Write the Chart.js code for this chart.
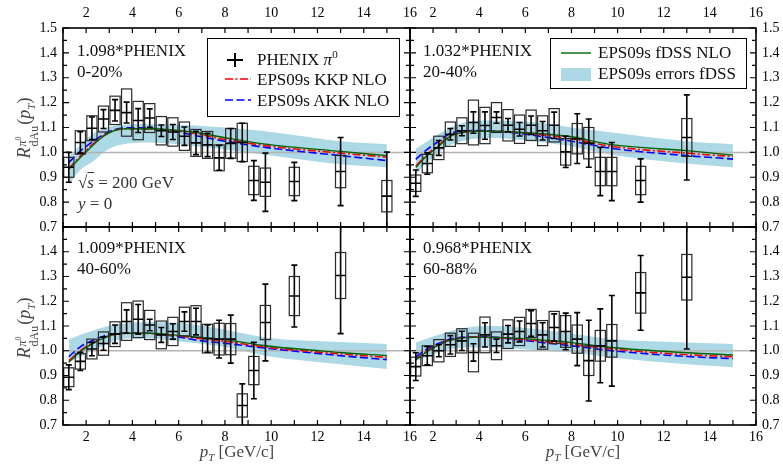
<!DOCTYPE html>
<html>
<head>
<meta charset="utf-8">
<script src="https://cdn.jsdelivr.net/npm/chart.js@4.4.0/dist/chart.umd.min.js"></script>
<style>
  body { margin: 0; background: #fff; }
  #wrap { position: relative; width: 783px; height: 467px; background: #fff; overflow: hidden;
          font-family: 'Liberation Serif', 'DejaVu Serif', serif; color: #111; }
  #wrap canvas { position: absolute; left: 0; top: 0; }
  .note { position: absolute; font-size: 17px; line-height: 21px; white-space: nowrap; }
  .legend { position: absolute; background: #fff; border: 1.5px solid #000; box-sizing: border-box; }
  .row { position: absolute; font-size: 17px; line-height: 20px; white-space: nowrap; }
  .up { position: relative; top: -7px; font-size: 11px; line-height: 0; }
  .dn { position: relative; top: 4px; font-size: 11px; line-height: 0; }
  .xtitle { position: absolute; top: 452px; font-size: 17px; color: #444; transform: translate(-50%, -50%); white-space: nowrap; }
  .ytitle { position: absolute; left: 26px; font-size: 18px; color: #444; white-space: nowrap;
            transform: translate(-50%, -50%) rotate(-90deg); }
  .ss { display: inline-block; vertical-align: middle; font-size: 12px; line-height: 12px; margin: 0 1px; }
  .ss span { display: block; }
  svg { position: absolute; }
</style>
</head>
<body>
<div id="wrap">
  <canvas id="cTL" width="783" height="467"></canvas>
  <canvas id="cTR" width="783" height="467"></canvas>
  <canvas id="cBL" width="783" height="467"></canvas>
  <canvas id="cBR" width="783" height="467"></canvas>

  <div class="note" style="left:77px;top:40px">1.098*PHENIX<br>0-20%</div>
  <div class="note" style="left:423px;top:40px">1.032*PHENIX<br>20-40%</div>
  <div class="note" style="left:77px;top:237px">1.009*PHENIX<br>40-60%</div>
  <div class="note" style="left:423px;top:237px">0.968*PHENIX<br>60-88%</div>
  <div class="note" style="left:78px;top:172px;color:#333">√<span style="text-decoration:overline"><i>s</i></span> = 200 GeV<br><i>y</i> = 0</div>

  <div class="legend" style="left:207px;top:38px;width:193px;height:79px">
    <svg style="left:16px;top:13px" width="22" height="16"><path d="M11 1 V15 M3 8 H19" stroke="#000" stroke-width="2"/></svg>
    <div class="row" style="left:49px;top:11px">PHENIX <i>π</i><span class="up">0</span></div>
    <svg style="left:16px;top:36px" width="28" height="8"><path d="M1 4 H27" stroke="#ff0000" stroke-width="1.6" stroke-dasharray="8,2.5,2,2.5"/></svg>
    <div class="row" style="left:49px;top:31px">EPS09s KKP NLO</div>
    <svg style="left:16px;top:57px" width="28" height="8"><path d="M1 4 H27" stroke="#0000ff" stroke-width="1.6" stroke-dasharray="8,3.5"/></svg>
    <div class="row" style="left:49px;top:52px">EPS09s AKK NLO</div>
  </div>

  <div class="legend" style="left:550px;top:38px;width:197px;height:51px">
    <svg style="left:9px;top:11px" width="32" height="6"><path d="M1 3 H31" stroke="#006400" stroke-width="1.4"/></svg>
    <div class="row" style="left:47px;top:4px">EPS09s fDSS NLO</div>
    <svg style="left:9px;top:29px" width="32" height="13"><rect x="1" y="0" width="30" height="13" fill="#add8e6"/></svg>
    <div class="row" style="left:47px;top:25px">EPS09s errors fDSS</div>
  </div>

  <div class="ytitle" style="top:128px"><i>R</i><span class="ss"><span><i>π</i><sup style="font-size:8px">0</sup></span><span>dAu</span></span>(<i>p</i><span class="dn"><i>T</i></span>)</div>
  <div class="ytitle" style="top:328px"><i>R</i><span class="ss"><span><i>π</i><sup style="font-size:8px">0</sup></span><span>dAu</span></span>(<i>p</i><span class="dn"><i>T</i></span>)</div>
  <div class="xtitle" style="left:237px"><i>p</i><span class="dn"><i>T</i></span> [GeV/c]</div>
  <div class="xtitle" style="left:583px"><i>p</i><span class="dn"><i>T</i></span> [GeV/c]</div>
</div>

<script>
// pT bin centres of the PHENIX points
const ptBins = [1.25, 1.75, 2.25, 2.75, 3.25, 3.75, 4.25, 4.75, 5.25, 5.75, 6.25, 6.75,
                7.25, 7.75, 8.25, 8.75, 9.25, 9.75, 11, 13, 15];
// pT nodes of the EPS09s curves
const curvePt = [1.25, 1.75, 2.25, 2.75, 3.25, 3.75, 4.75, 5.75, 6.75, 8, 9.75, 13, 15];

const xTickLabels = [2, 4, 6, 8, 10, 12, 14, 16];
const xTickMarks = [1, 2, 3, 4, 5, 6, 7, 8, 9, 10, 11, 12, 13, 14, 15, 16];
const yTickLabelsTop = [0.7, 0.8, 0.9, 1.0, 1.1, 1.2, 1.3, 1.4, 1.5];
const yTickLabelsBottom = [0.7, 0.8, 0.9, 1.0, 1.1, 1.2, 1.3, 1.4];
const yTickMarks = [0.7, 0.75, 0.8, 0.85, 0.9, 0.95, 1.0, 1.05, 1.1, 1.15, 1.2, 1.25, 1.3, 1.35, 1.4, 1.45, 1.5];

// 0-20 %
const val0020 = [0.94, 1.04, 1.097, 1.134, 1.169, 1.16, 1.128, 1.138, 1.087, 1.082, 1.065, 1.038, 1.03, 0.978, 1.036, 1.04, 0.887, 0.88, 0.883, 0.923, 0.824];
const stat0020 = [0.06, 0.043, 0.045, 0.038, 0.043, 0.042, 0.048, 0.037, 0.023, 0.03, 0.037, 0.047, 0.047, 0.05, 0.06, 0.077, 0.08, 0.117, 0.077, 0.137, 0.177];
const sys0020 = [0.04, 0.047, 0.05, 0.052, 0.057, 0.095, 0.077, 0.058, 0.057, 0.057, 0.057, 0.054, 0.054, 0.052, 0.06, 0.077, 0.057, 0.057, 0.057, 0.065, 0.063];
const fdss0020 = [0.932, 0.979, 1.025, 1.065, 1.089, 1.095, 1.095, 1.09, 1.08, 1.059, 1.033, 1.004, 0.987];
const kkp0020 = [0.935, 0.985, 1.03, 1.067, 1.089, 1.095, 1.094, 1.088, 1.075, 1.052, 1.027, 0.997, 0.981];
const akk0020 = [0.959, 1.005, 1.041, 1.072, 1.092, 1.099, 1.097, 1.085, 1.067, 1.045, 1.02, 0.987, 0.967];
const errHi0020 = [0.98, 1.03, 1.072, 1.095, 1.108, 1.112, 1.114, 1.112, 1.108, 1.1, 1.085, 1.045, 1.033];
const errLo0020 = [0.87, 0.93, 0.96, 1.0, 1.025, 1.035, 1.04, 1.035, 1.025, 1.012, 0.99, 0.952, 0.94];

// 20-40 %
const val2040 = [0.876, 0.955, 1.018, 1.073, 1.087, 1.12, 1.108, 1.14, 1.109, 1.093, 1.109, 1.087, 1.109, 1.002, 1.055, 1.037, 0.923, 0.923, 0.887, 1.06];
const stat2040 = [0.053, 0.043, 0.03, 0.023, 0.02, 0.043, 0.055, 0.023, 0.027, 0.027, 0.037, 0.037, 0.053, 0.063, 0.1, 0.097, 0.097, 0.117, 0.087, 0.171];
const sys2040 = [0.033, 0.037, 0.047, 0.049, 0.052, 0.09, 0.073, 0.06, 0.063, 0.057, 0.061, 0.06, 0.067, 0.053, 0.061, 0.063, 0.057, 0.057, 0.057, 0.076];
const fdss2040 = [0.939, 0.988, 1.025, 1.065, 1.079, 1.085, 1.085, 1.081, 1.075, 1.063, 1.031, 1.007, 0.989];
const kkp2040 = [0.945, 0.993, 1.03, 1.067, 1.08, 1.085, 1.084, 1.079, 1.07, 1.055, 1.024, 0.997, 0.983];
const akk2040 = [0.972, 1.012, 1.045, 1.076, 1.085, 1.088, 1.085, 1.076, 1.063, 1.045, 1.016, 0.987, 0.973];
const errHi2040 = [1.015, 1.045, 1.075, 1.1, 1.118, 1.127, 1.128, 1.125, 1.118, 1.1, 1.08, 1.045, 1.033];
const errLo2040 = [0.912, 0.96, 1.0, 1.03, 1.045, 1.055, 1.058, 1.05, 1.04, 1.025, 0.99, 0.955, 0.94];

// 40-60 %
const val4060 = [0.893, 0.957, 1.007, 1.029, 1.067, 1.118, 1.127, 1.104, 1.064, 1.078, 1.118, 1.118, 1.049, 1.047, 1.047, 0.779, 0.92, 1.114, 1.221, 1.304];
const stat4060 = [0.05, 0.037, 0.027, 0.027, 0.037, 0.047, 0.06, 0.023, 0.03, 0.031, 0.039, 0.054, 0.055, 0.076, 0.097, 0.087, 0.114, 0.155, 0.125, 0.235];
const sys4060 = [0.038, 0.031, 0.04, 0.047, 0.05, 0.076, 0.074, 0.059, 0.056, 0.057, 0.058, 0.064, 0.058, 0.064, 0.063, 0.047, 0.057, 0.069, 0.079, 0.093];
const fdss4060 = [0.953, 0.997, 1.027, 1.051, 1.067, 1.071, 1.071, 1.064, 1.056, 1.045, 1.02, 0.993, 0.98];
const kkp4060 = [0.96, 1.0, 1.03, 1.053, 1.067, 1.071, 1.07, 1.062, 1.051, 1.038, 1.015, 0.987, 0.973];
const akk4060 = [0.976, 1.016, 1.04, 1.059, 1.07, 1.073, 1.071, 1.06, 1.043, 1.03, 1.011, 0.98, 0.964];
const errHi4060 = [1.045, 1.065, 1.08, 1.095, 1.105, 1.112, 1.115, 1.114, 1.105, 1.085, 1.054, 1.035, 1.027];
const errLo4060 = [0.955, 0.975, 1.0, 1.02, 1.04, 1.05, 1.05, 1.04, 1.03, 1.015, 0.98, 0.945, 0.926];

// 60-88 %
const val6088 = [0.936, 0.98, 1.0, 1.024, 1.04, 0.993, 1.064, 1.02, 1.067, 1.078, 1.11, 1.064, 1.094, 1.078, 1.047, 0.96, 1.02, 1.04, 1.234, 1.297];
const stat6088 = [0.056, 0.037, 0.024, 0.037, 0.039, 0.035, 0.049, 0.027, 0.035, 0.042, 0.052, 0.049, 0.055, 0.074, 0.107, 0.163, 0.149, 0.183, 0.151, 0.29];
const sys6088 = [0.038, 0.04, 0.045, 0.047, 0.049, 0.078, 0.072, 0.056, 0.058, 0.057, 0.057, 0.058, 0.065, 0.064, 0.057, 0.06, 0.062, 0.066, 0.082, 0.092];
const fdss6088 = [0.963, 0.997, 1.024, 1.043, 1.051, 1.054, 1.054, 1.05, 1.043, 1.033, 1.013, 0.992, 0.983];
const kkp6088 = [0.966, 1.0, 1.026, 1.044, 1.052, 1.055, 1.053, 1.047, 1.038, 1.026, 1.007, 0.984, 0.976];
const akk6088 = [0.976, 1.007, 1.03, 1.047, 1.054, 1.056, 1.054, 1.044, 1.033, 1.02, 1.0, 0.977, 0.968];
const errHi6088 = [1.033, 1.05, 1.065, 1.08, 1.09, 1.097, 1.1, 1.094, 1.085, 1.07, 1.047, 1.033, 1.027];
const errLo6088 = [0.96, 0.975, 0.995, 1.007, 1.012, 1.013, 1.013, 1.007, 1.0, 0.993, 0.973, 0.945, 0.933];

const BIN_HALF = 0.22;   // half width of the systematic boxes, in GeV/c
const CAP = 3;           // error bar cap, px
const serif = "'Liberation Serif', 'DejaVu Serif', serif";

const panels = [
    { id: 'cTL', val: val0020, stat: stat0020, sys: sys0020, fdss: fdss0020, kkp: kkp0020, akk: akk0020, hi: errHi0020, lo: errLo0020,
      xPos: 'top', yPos: 'left', yLabels: yTickLabelsTop, pad: { left: 0, top: 0, right: 373, bottom: 240 } },
    { id: 'cTR', val: val2040, stat: stat2040, sys: sys2040, fdss: fdss2040, kkp: kkp2040, akk: akk2040, hi: errHi2040, lo: errLo2040,
      xPos: 'top', yPos: 'right', yLabels: yTickLabelsTop, pad: { left: 410, top: 0, right: 0, bottom: 240 } },
    { id: 'cBL', val: val4060, stat: stat4060, sys: sys4060, fdss: fdss4060, kkp: kkp4060, akk: akk4060, hi: errHi4060, lo: errLo4060,
      xPos: 'bottom', yPos: 'left', yLabels: yTickLabelsBottom, pad: { left: 0, top: 227, right: 373, bottom: 0 } },
    { id: 'cBR', val: val6088, stat: stat6088, sys: sys6088, fdss: fdss6088, kkp: kkp6088, akk: akk6088, hi: errHi6088, lo: errLo6088,
      xPos: 'bottom', yPos: 'right', yLabels: yTickLabelsBottom, pad: { left: 410, top: 227, right: 0, bottom: 0 } }
];

function pairs(xs, ys) {
    return ys.map((v, i) => ({ x: xs[i], y: v }));
}

function decorPlugin(p) {
    return {
        id: 'decor' + p.id,
        afterDatasetsDraw(chart) {
            const { ctx, chartArea: a, scales: { x, y } } = chart;
            const X = v => x.getPixelForValue(v);
            const Y = v => y.getPixelForValue(v);

            // PHENIX points: systematic boxes, stat. error bars, bin crosses
            ctx.save();
            ctx.beginPath();
            ctx.rect(a.left, a.top, a.right - a.left, a.bottom - a.top);
            ctx.clip();
            p.val.forEach((v, i) => {
                const pt = ptBins[i];
                const l = X(pt - BIN_HALF), r = X(pt + BIN_HALF), c = X(pt);
                const st = p.stat[i], sy = p.sys[i];
                ctx.strokeStyle = '#2a2a2a';
                ctx.lineWidth = 1.2;
                ctx.strokeRect(l, Y(v + sy), r - l, Y(v - sy) - Y(v + sy));
                ctx.strokeStyle = '#000';
                ctx.lineWidth = 1.6;
                ctx.beginPath();
                ctx.moveTo(c, Y(v + st)); ctx.lineTo(c, Y(v - st));
                ctx.moveTo(c - CAP, Y(v + st)); ctx.lineTo(c + CAP, Y(v + st));
                ctx.moveTo(c - CAP, Y(v - st)); ctx.lineTo(c + CAP, Y(v - st));
                ctx.moveTo(l, Y(v)); ctx.lineTo(r, Y(v));
                ctx.stroke();
            });
            ctx.restore();

            // frame and inward ticks
            ctx.save();
            ctx.strokeStyle = '#000';
            ctx.lineWidth = 1.2;
            ctx.beginPath();
            xTickMarks.forEach(v => {
                const px = X(v);
                ctx.moveTo(px, a.bottom); ctx.lineTo(px, a.bottom - 5);
                ctx.moveTo(px, a.top); ctx.lineTo(px, a.top + 5);
            });
            yTickMarks.forEach((v, i) => {
                const py = Y(v), len = i % 2 === 0 ? 6 : 4;
                ctx.moveTo(a.left, py); ctx.lineTo(a.left + len, py);
                ctx.moveTo(a.right, py); ctx.lineTo(a.right - len, py);
            });
            ctx.stroke();
            ctx.lineWidth = 1.6;
            ctx.strokeRect(a.left, a.top, a.right - a.left, a.bottom - a.top);
            ctx.restore();
        }
    };
}

function makePanel(p) {
    const curve = (data, color, dash, width, order) => ({
        data: data, borderColor: color, borderDash: dash, borderWidth: width,
        pointRadius: 0, fill: false, cubicInterpolationMode: 'monotone', order: order
    });

    return new Chart(document.getElementById(p.id), {
        type: 'line',
        data: {
            datasets: [
                { data: pairs(curvePt, p.hi), borderWidth: 0, borderColor: 'rgba(0,0,0,0)', pointRadius: 0,
                  fill: '+1', backgroundColor: '#add8e6', cubicInterpolationMode: 'monotone', order: 6 },
                { data: pairs(curvePt, p.lo), borderWidth: 0, borderColor: 'rgba(0,0,0,0)', pointRadius: 0,
                  fill: false, cubicInterpolationMode: 'monotone', order: 7 },
                curve([{ x: 1, y: 1 }, { x: 16, y: 1 }], '#b4b4b4', [], 1.5, 5),
                curve(pairs(curvePt, p.akk), '#0000ff', [8, 3.5], 1.6, 3),
                curve(pairs(curvePt, p.kkp), '#ff0000', [8, 2.5, 2, 2.5], 1.6, 2),
                curve(pairs(curvePt, p.fdss), '#006400', [], 1.4, 1)
            ]
        },
        options: {
            responsive: false,
            animation: false,
            devicePixelRatio: 1,
            layout: { padding: p.pad },
            plugins: { legend: { display: false }, tooltip: { enabled: false } },
            scales: {
                x: {
                    type: 'linear', position: p.xPos, min: 1, max: 16,
                    grid: { display: false, drawTicks: false }, border: { display: false },
                    ticks: { color: '#000', font: { family: serif, size: 14 }, padding: p.xPos === 'top' ? 6 : 4,
                             maxRotation: 0, autoSkip: false, callback: v => String(v) },
                    afterBuildTicks: s => { s.ticks = xTickLabels.map(v => ({ value: v })); },
                    afterFit: s => { s.height = p.xPos === 'top' ? 28 : 42; s.paddingLeft = 0; s.paddingRight = 0; }
                },
                y: {
                    type: 'linear', position: p.yPos, min: 0.7, max: 1.5,
                    grid: { display: false, drawTicks: false }, border: { display: false },
                    ticks: { color: '#000', font: { family: serif, size: 14 }, padding: 6,
                             autoSkip: false, callback: v => v.toFixed(1) },
                    afterBuildTicks: s => { s.ticks = p.yLabels.map(v => ({ value: v })); },
                    afterFit: s => { s.width = p.yPos === 'left' ? 63 : 27; s.paddingTop = 0; s.paddingBottom = 0; }
                }
            }
        },
        plugins: [decorPlugin(p)]
    });
}

panels.forEach(makePanel);
</script>
</body>
</html>
